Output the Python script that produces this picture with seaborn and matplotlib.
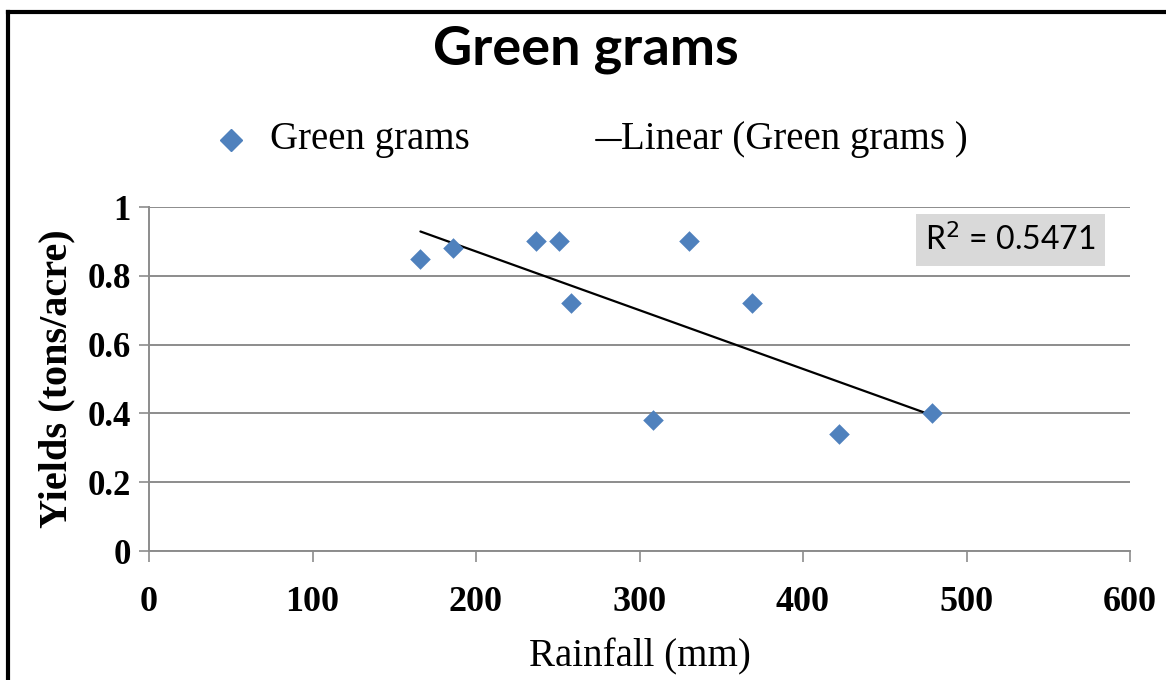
import numpy as np
import pandas as pd
import matplotlib
matplotlib.use("Agg")
import matplotlib.pyplot as plt
from matplotlib.lines import Line2D
import seaborn as sns

# Rainfall (mm) and green gram yields (tons/acre)
rainfall = [166, 186, 237, 251, 258, 308, 330, 369, 422, 479]
yields = [0.85, 0.88, 0.90, 0.90, 0.72, 0.38, 0.90, 0.72, 0.34, 0.40]
x_ticks = [0, 100, 200, 300, 400, 500, 600]
y_ticks = [0, 0.2, 0.4, 0.6, 0.8, 1]
y_tick_labels = ["0", "0.2", "0.4", "0.6", "0.8", "1"]
series_name = "Green grams"
trend_name = "Linear (Green grams )"
r2_text = "R$^2$ = 0.5471"

df = pd.DataFrame({"Rainfall": rainfall, "Yield": yields})

sns.set_style("white")
plt.rcParams["font.family"] = ["Liberation Serif", "DejaVu Serif"]
plt.rcParams["text.color"] = "black"
plt.rcParams["axes.labelcolor"] = "black"
plt.rcParams["xtick.color"] = "black"
plt.rcParams["ytick.color"] = "black"

BLUE = "#4F81BD"
GRID = "#8C8C8C"
W, H = 1166, 680

fig = plt.figure(figsize=(W / 100, H / 100), dpi=100)
ax = fig.add_axes([149 / W, 1 - 551 / H, (1130 - 149) / W, (551 - 207) / H])

sns.regplot(data=df, x="Rainfall", y="Yield", scatter=False, ci=None, truncate=True,
            color="black", line_kws=dict(lw=1.6, zorder=2), ax=ax)
sns.scatterplot(data=df, x="Rainfall", y="Yield", marker="D", s=110, color=BLUE,
                linewidth=0, zorder=3, ax=ax)

ax.set_xlim(0, 600)
ax.set_ylim(0, 1)
ax.set_xticks(x_ticks)
ax.set_yticks(y_ticks)
ax.set_yticklabels(y_tick_labels)
ax.yaxis.grid(True, color=GRID, lw=1.4)
ax.xaxis.grid(False)
ax.set_axisbelow(True)
for side in ("top", "right"):
    ax.spines[side].set_visible(False)
for side in ("left", "bottom"):
    ax.spines[side].set_color(GRID)
    ax.spines[side].set_linewidth(1.4)

ax.tick_params(axis="x", which="major", direction="out", length=8, width=1.2,
               color=GRID, labelcolor="black", bottom=True, pad=17, labelsize=26)
ax.tick_params(axis="y", which="major", direction="out", length=7, width=1.2,
               color=GRID, labelcolor="black", left=True, pad=6, labelsize=25)
for lab in ax.get_xticklabels() + ax.get_yticklabels():
    lab.set_fontweight("bold")

ax.set_xlabel("Rainfall (mm)", fontsize=28, labelpad=14)
ax.set_ylabel("Yields (tons/acre)", fontsize=29, fontweight="bold", labelpad=9)

# R-squared annotation box
ax.text(0.965, 0.905, r2_text, transform=ax.transAxes, ha="right", va="center",
        fontsize=23, family=["Lato", "DejaVu Sans"], color="black",
        bbox=dict(boxstyle="square,pad=0.3", facecolor="#D9D9D9", edgecolor="none"))

# Title
fig.text(586 / W, 1 - 49 / H, "Green grams", ha="center", va="center",
         fontsize=39, fontweight="bold", family=["Lato", "DejaVu Sans"], color="black")

# Legend row: marker key, trend-line key and their labels
legend_y = 1 - 140 / H
fig.add_artist(Line2D([231 / W], [legend_y], marker="D", linestyle="none",
                      color=BLUE, markersize=11, transform=fig.transFigure))
fig.text(270 / W, legend_y, series_name, ha="left", va="center", fontsize=28)
fig.add_artist(Line2D([596 / W, 621 / W], [legend_y, legend_y], color="black",
                      lw=1.5, transform=fig.transFigure))
fig.text(621 / W, legend_y, trend_name, ha="left", va="center", fontsize=28)

# Outer frame (top and left edges)
fig.add_artist(Line2D([8 / W, 1], [1 - 11.5 / H, 1 - 11.5 / H],
                      transform=fig.transFigure, color="black", lw=3.0,
                      solid_capstyle="projecting"))
fig.add_artist(Line2D([8 / W, 8 / W], [0, 1 - 11.5 / H],
                      transform=fig.transFigure, color="black", lw=3.0,
                      solid_capstyle="projecting"))

fig.savefig("out.png", dpi=100, facecolor="white")
